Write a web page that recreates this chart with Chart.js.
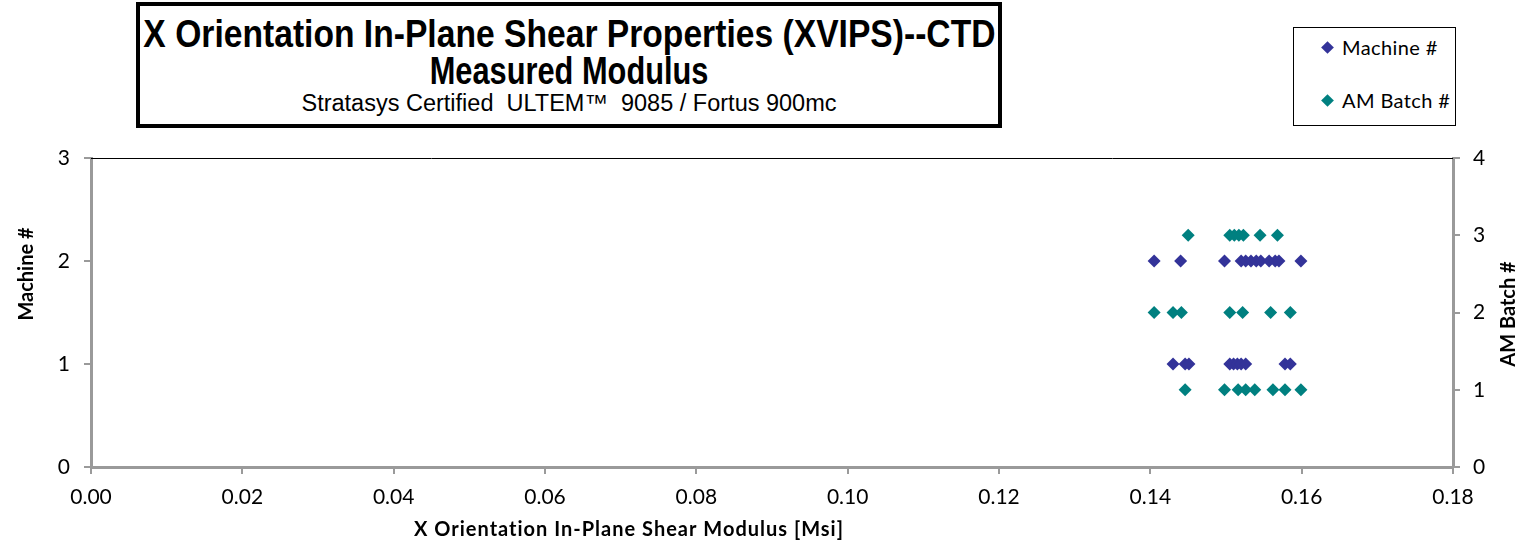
<!DOCTYPE html>
<html>
<head>
<meta charset="utf-8">
<script src="https://cdn.jsdelivr.net/npm/chart.js@4"></script>
<style>
  body { margin: 0; background: #fff; }
  #wrap { position: relative; width: 1528px; height: 545px; }
  #titleBox {
    position: absolute; left: 136px; top: 2px; width: 866px; height: 126px;
    box-sizing: border-box; border: 4px solid #000; background: #fff;
    font-family: "Liberation Sans", Arial, sans-serif; color: #000;
  }
  .tl { position: absolute; left: 0; right: 0; white-space: nowrap; display: flex; justify-content: center; }
  .tl span { display: inline-block; flex: none; transform-origin: center; }
  #t1 { top: 7px; font-size: 38px; font-weight: bold; }
  #t1 span { transform: scaleX(0.885); }
  #t2 { top: 44px; font-size: 38px; font-weight: bold; }
  #t2 span { transform: scaleX(0.81); }
  #t3 { top: 84px; font-size: 23.5px; }
  #legendBox {
    position: absolute; left: 1293px; top: 27px; width: 163px; height: 99px;
    box-sizing: border-box; border: 1.5px solid #000; background: #fff;
    font-family: Lato, "Open Sans", sans-serif; font-size: 20px; letter-spacing: 0.4px; color: #000;
  }
  .li { position: absolute; left: 29px; white-space: nowrap; }
  .mk { display: inline-block; width: 9px; height: 9px; transform: rotate(45deg); margin-right: 10px; vertical-align: 3px; }
</style>
</head>
<body>
<div id="wrap">
  <canvas id="chart" width="1528" height="545"></canvas>
  <div id="titleBox">
    <div class="tl" id="t1"><span>X Orientation In-Plane Shear Properties (XVIPS)--CTD</span></div>
    <div class="tl" id="t2"><span>Measured Modulus</span></div>
    <div class="tl" id="t3"><span>Stratasys Certified&nbsp; ULTEM™&nbsp; 9085 / Fortus 900mc</span></div>
  </div>
  <div id="legendBox">
    <div class="li" style="top:7px"><span class="mk" style="background:#333399"></span>Machine #</div>
    <div class="li" style="top:60px"><span class="mk" style="background:#008080"></span>AM Batch #</div>
  </div>
</div>
<script>
// Machine # (left axis)
const machineX = [0.1405, 0.1440, 0.1498, 0.1520, 0.1526, 0.1533, 0.1540, 0.1546, 0.1557, 0.1565, 0.1570, 0.1599,
                  0.1430, 0.1446, 0.1451, 0.1505, 0.1510, 0.1515, 0.1520, 0.1526, 0.1578, 0.1585];
const machineY = [2, 2, 2, 2, 2, 2, 2, 2, 2, 2, 2, 2,
                  1, 1, 1, 1, 1, 1, 1, 1, 1, 1];

// AM Batch # (right axis)
const batchX = [0.1450, 0.1505, 0.1511, 0.1517, 0.1523, 0.1545, 0.1568,
                0.1405, 0.1430, 0.1441, 0.1505, 0.1522, 0.1559, 0.1585,
                0.1446, 0.1498, 0.1516, 0.1526, 0.1538, 0.1562, 0.1578, 0.1599];
const batchY = [3, 3, 3, 3, 3, 3, 3,
                2, 2, 2, 2, 2, 2, 2,
                1, 1, 1, 1, 1, 1, 1, 1];

const xTitle = 'X Orientation In-Plane Shear Modulus [Msi]';
const yTitle = 'Machine #';
const y2Title = 'AM Batch #';

const toPoints = (xs, ys) => xs.map((x, i) => ({ x: x, y: ys[i] }));

const tickFont = { family: 'Lato, "Open Sans", sans-serif', size: 21 };
const axisGrey = '#9a9a9a';

function drawTitle(ctx, text, x, y, rot, spacing) {
  ctx.save();
  ctx.translate(x, y);
  ctx.rotate(rot);
  ctx.font = 'bold 20px Lato, "Open Sans", sans-serif';
  ctx.letterSpacing = spacing + 'px';
  ctx.fillStyle = '#000';
  ctx.textAlign = 'center';
  ctx.textBaseline = 'middle';
  ctx.fillText(text, 0, 0);
  ctx.restore();
}

// black top frame line and axis titles placed like the original
const extras = {
  id: 'extras',
  afterDraw(chart) {
    const ctx = chart.ctx;
    const a = chart.chartArea;
    ctx.save();
    ctx.strokeStyle = '#000';
    ctx.lineWidth = 1;
    ctx.beginPath();
    ctx.moveTo(a.left, a.top + 0.5);
    ctx.lineTo(a.right, a.top + 0.5);
    ctx.stroke();
    ctx.restore();

    drawTitle(ctx, xTitle, 629, 530, 0, 1);
    drawTitle(ctx, yTitle, 27, 274, -Math.PI / 2, 0);
    drawTitle(ctx, y2Title, 1509, 314, -Math.PI / 2, 0);
  }
};

const ctx = document.getElementById('chart').getContext('2d');
const chart = new Chart(ctx, {
  type: 'scatter',
  data: {
    datasets: [
      {
        label: 'Machine #',
        data: toPoints(machineX, machineY),
        yAxisID: 'y',
        pointStyle: 'rectRot',
        pointRadius: 6.5,
        pointHoverRadius: 6.5,
        backgroundColor: '#333399',
        borderColor: '#333399',
        borderWidth: 0
      },
      {
        label: 'AM Batch #',
        data: toPoints(batchX, batchY),
        yAxisID: 'y2',
        pointStyle: 'rectRot',
        pointRadius: 6.5,
        pointHoverRadius: 6.5,
        backgroundColor: '#008080',
        borderColor: '#008080',
        borderWidth: 0
      }
    ]
  },
  options: {
    responsive: false,
    animation: false,
    devicePixelRatio: 1,
    layout: { padding: { top: 158, left: 0, right: 0, bottom: 0 } },
    plugins: {
      legend: { display: false },
      tooltip: { enabled: false },
      title: { display: false }
    },
    scales: {
      x: {
        type: 'linear',
        position: 'bottom',
        min: 0,
        max: 0.18,
        afterFit: s => { s.height = 78; },
        ticks: {
          stepSize: 0.02,
          callback: v => v.toFixed(2),
          font: tickFont,
          color: '#000',
          padding: 11,
          maxRotation: 0,
          autoSkip: false
        },
        grid: { display: true, drawOnChartArea: false, drawTicks: true, tickLength: 7, color: axisGrey, lineWidth: 2 },
        border: { display: true, color: axisGrey, width: 3 },
        title: { display: false }
      },
      y: {
        type: 'linear',
        position: 'left',
        min: 0,
        max: 3,
        afterFit: s => { s.width = 91; },
        ticks: { stepSize: 1, font: tickFont, color: '#000', padding: 14 },
        grid: { display: true, drawOnChartArea: false, drawTicks: true, tickLength: 7, color: axisGrey, lineWidth: 2 },
        border: { display: true, color: axisGrey, width: 3 },
        title: { display: false }
      },
      y2: {
        type: 'linear',
        position: 'right',
        min: 0,
        max: 4,
        afterFit: s => { s.width = 75; },
        ticks: { stepSize: 1, font: tickFont, color: '#000', padding: 13 },
        grid: { display: true, drawOnChartArea: false, drawTicks: true, tickLength: 7, color: axisGrey, lineWidth: 2 },
        border: { display: true, color: axisGrey, width: 3 },
        title: { display: false }
      }
    }
  },
  plugins: [extras]
});
</script>
</body>
</html>
